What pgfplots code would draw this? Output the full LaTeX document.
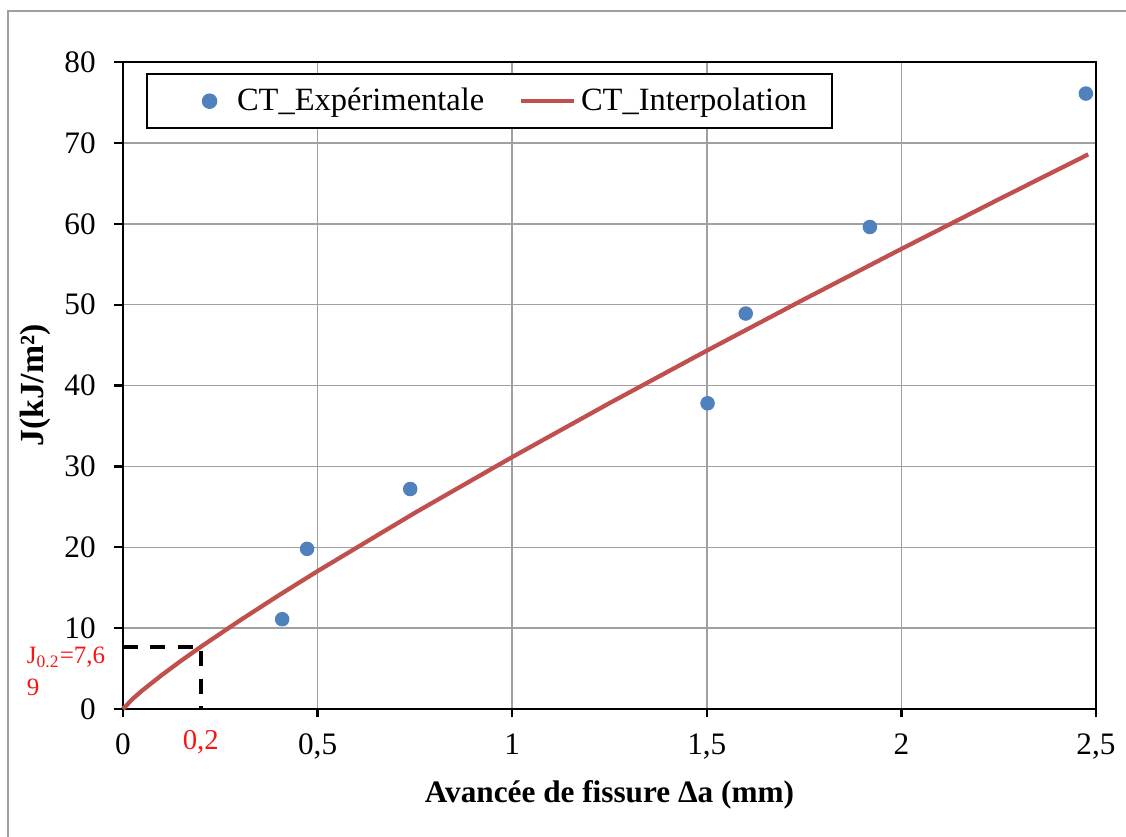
\documentclass[border=0pt]{standalone}
\usepackage{pgfplots}
\pgfplotsset{compat=1.18}
\usepackage{fontspec}
\setmainfont{Liberation Serif}
\definecolor{xlblue}{RGB}{79,129,189}
\definecolor{xlred}{RGB}{192,80,77}
\definecolor{gridgray}{RGB}{160,160,160}
\definecolor{annred}{RGB}{250,20,20}

\begin{document}
\begin{tikzpicture}[x=1pt,y=1pt]
% page = reference image, 0.4pt per pixel
\useasboundingbox (-49.2,-51.2) rectangle (401.2,283.6);
\draw[gray!75, line width=1pt] (-46,-60) -- (-46,279.2) -- (410,279.2);

\begin{axis}[
  at={(0,0)}, anchor=south west,
  scale only axis,
  width=389.2pt, height=258.8pt,
  xmin=0, xmax=2.5, ymin=0, ymax=80,
  xtick={0,0.5,1,1.5,2,2.5},
  xticklabels={0,{0,5},1,{1,5},2,{2,5}},
  ytick={0,10,...,80},
  xtick pos=left, ytick pos=left,
  tick align=outside,
  major tick length=3.4pt,
  tick style={black, line width=0.9pt},
  axis line style={black, line width=0.9pt},
  grid=major,
  major grid style={gridgray, line width=0.6pt},
  /pgf/number format/assume math mode=true,
  ticklabel style={font=\fontsize{12.5}{14}\selectfont},
  yticklabel style={xshift=-4pt},
  xticklabel style={yshift=-3pt},
  xlabel={Avancée de fissure Δa (mm)},
  ylabel={J(kJ/m²)},
  xlabel style={font=\fontsize{12.5}{14}\selectfont\bfseries,
    at={(axis description cs:0.5,0)}, anchor=center, yshift=-34.4pt},
  ylabel style={font=\fontsize{13.5}{15}\selectfont\bfseries,
    at={([xshift=-35.2pt]axis description cs:0,0.5)}, anchor=center},
  legend columns=2,
  legend style={at={(axis description cs:0.0237,0.9830)}, anchor=north west,
    draw=black, line width=0.8pt, fill=white,
    font=\fontsize{13}{15}\selectfont,
    inner xsep=8pt, inner ysep=3.6pt},
  /tikz/every even column/.append style={column sep=12pt},
  clip=false,
]
\addplot[only marks, mark=*, mark size=2.7pt, color=xlblue,
  mark options={fill=xlblue, draw=xlblue},
  legend image code/.code={\fill[xlblue] (17pt,0pt) circle (2.7pt); \path[draw=none] (0pt,0pt) (26pt,0pt);}]
  coordinates {
    (0.409,11.1)
    (0.473,19.8)
    (0.738,27.2)
    (1.502,37.8)
    (1.600,48.9)
    (1.919,59.6)
    (2.474,76.1)
  };
\addlegendentry{CT\_Expérimentale}

\addplot[xlred, line width=1.7pt,
  legend image code/.code={\draw[xlred, line width=1.7pt] (0pt,0pt) -- (21pt,0pt);}]
  coordinates {
    (0,0)
    (0.025,1.26)
    (0.05,2.31)
    (0.1,4.21)
    (0.15,5.99)
    (0.2,7.69)
    (0.3,10.94)
    (0.4,14.05)
    (0.5,17.05)
    (0.75,24.26)
    (1,31.15)
    (1.25,37.82)
    (1.5,44.31)
    (1.75,50.66)
    (2,56.89)
    (2.25,63.02)
    (2.48,68.58)
  };
\addlegendentry{CT\_Interpolation}

\addplot[black, line width=1.4pt, dash pattern=on 6pt off 5pt, forget plot]
  coordinates {(0,7.69) (0.2,7.69) (0.2,0)};

\node[text=annred, font=\fontsize{11.5}{13}\selectfont] at (axis cs:0.2,0) [yshift=-13.2pt] {0,2};
\end{axis}

\node[anchor=west, text=annred, font=\fontsize{10}{12}\selectfont, inner sep=0pt] at (-38.6,20.6) {J\textsubscript{0.2}=7,6};
\node[anchor=west, text=annred, font=\fontsize{10}{12}\selectfont, inner sep=0pt] at (-38.6,8.8) {9};
\end{tikzpicture}
\end{document}
